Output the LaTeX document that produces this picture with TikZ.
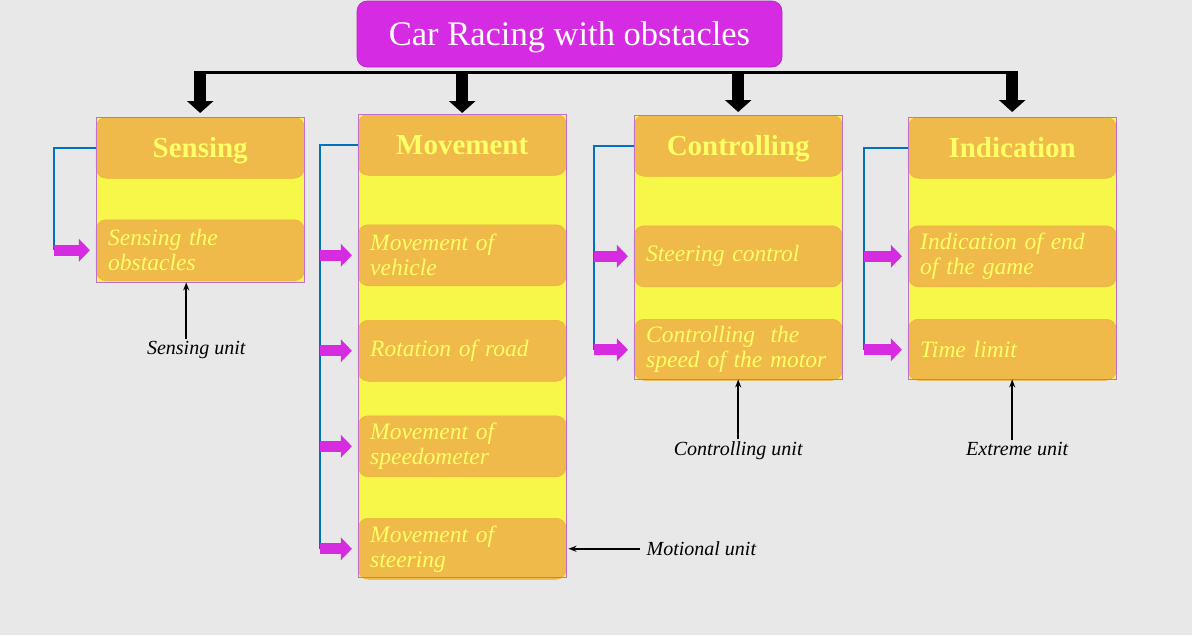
\documentclass[tikz,border=0pt]{standalone}
\usepackage{fontspec}
\setmainfont{Liberation Serif}
\usetikzlibrary{arrows.meta,positioning}

\definecolor{bggray}{HTML}{E8E8E8}
\definecolor{titlemag}{HTML}{D52BE3}
\definecolor{arrowmag}{HTML}{D62BE0}
\definecolor{colyellow}{HTML}{F7F74A}
\definecolor{headorange}{HTML}{F0BA4A}
\definecolor{edgeorange}{HTML}{E9B13E}
\definecolor{textyellow}{HTML}{FFFF66}
\definecolor{boxline}{HTML}{C070C8}
\definecolor{feedblue}{HTML}{0070C0}

\begin{document}
\begin{tikzpicture}[x=1pt,y=-1pt,
                    every node/.style={inner sep=0pt},
                    title/.style={fill=titlemag,draw=titlemag!85!black,line width=0.6pt,rounded corners=10pt,minimum width=425pt,minimum height=66pt,text depth=0pt,text=white,font=\fontsize{34.5}{37}\selectfont},
                    column/.style={fill=colyellow,minimum width=208pt,anchor=north west},
                    head/.style={fill=headorange,draw=edgeorange,line width=0.5pt,rounded corners=10pt,minimum width=208pt,minimum height=61pt,anchor=north,text depth=0pt,text=textyellow,font=\bfseries\fontsize{29}{32}\selectfont},
                    item/.style={fill=headorange,draw=edgeorange,line width=0.5pt,rounded corners=10pt,text width=184pt,inner xsep=12pt,minimum height=61pt,align=left,text=textyellow,font=\itshape\fontsize{23.5}{25}\selectfont},
                    unit/.style={inner sep=2pt,font=\itshape\fontsize{20}{22}\selectfont},
                    outline/.style={draw=boxline,line width=1pt},
                    bus/.style={line width=3pt},
                    drop/.style={line width=12pt,-{Triangle[width=26pt,length=12pt]},shorten >=1pt},
                    feed/.style={draw=feedblue,line width=2pt},
                    push/.style={draw=arrowmag,line width=11pt,-{Triangle[width=22pt,length=11pt]},shorten >=6pt},
                    note/.style={line width=1.5pt,-{Stealth[length=8pt,width=6pt]}}]

\useasboundingbox[fill=bggray] (0,0) rectangle (1192,635);

\node[title] (title) at (569.5,34) {Car Racing with obstacles};

% the four units
\node[column,minimum height=165pt] (sens) at (96,117) {};
\node[column,minimum height=463pt] (mov) at (358,114) {};
\node[column,minimum height=264pt] (ctrl) at (634,115) {};
\node[column,minimum height=262pt] (ind) at (908,117) {};

\node[head] (sensH) at (sens.north) {Sensing};
\node[item,below=41pt of sensH] (sensI) {Sensing the\\obstacles};

\node[head] (movH) at (mov.north) {Movement};
\node[item,below=49pt of movH] (movI1) {Movement of\\vehicle};
\node[item,below=34pt of movI1] (movI2) {Rotation of road};
\node[item,below=34pt of movI2] (movI3) {Movement of\\speedometer};
\node[item,below=41pt of movI3] (movI4) {Movement of\\steering};

\node[head] (ctrlH) at (ctrl.north) {Controlling};
\node[item,below=49pt of ctrlH] (ctrlI1) {Steering control};
\node[item,below=32pt of ctrlI1] (ctrlI2) {Controlling\ \ the\\speed of the motor};

\node[head] (indH) at (ind.north) {Indication};
\node[item,below=47pt of indH] (indI1) {Indication of end\\of the game};
\node[item,below=32pt of indI1] (indI2) {Time limit};

\draw[outline] (sens.north west) rectangle (sens.south east);
\draw[outline] (mov.north west) rectangle (mov.south east);
\draw[outline] (ctrl.north west) rectangle (ctrl.south east);
\draw[outline] (ind.north west) rectangle (ind.south east);

% from the title down to the units
\coordinate (bus) at (0,72);
\draw[bus] ([xshift=-6pt]sens.north |- bus) -- ([xshift=6pt]ind.north |- bus);
\draw[drop] (sens.north |- bus) -- ([yshift=3pt]sens.north);
\draw[drop] (mov.north |- bus) -- (mov.north);
\draw[drop] (ctrl.north |- bus) -- ([yshift=2pt]ctrl.north);
\draw[drop] (ind.north |- bus) -- ([yshift=4pt]ind.north);

% feeds into the items
\coordinate (sensL) at ([xshift=-42pt]sensI.west);
\draw[feed] (sensH.west) -| (sensL);
\draw[push] (sensL) -- (sensI.west);

\coordinate (movL) at ([xshift=-38pt]movI4.west);
\draw[feed] (movH.west) -| (movL);
\draw[push] (movL |- movI1.west) -- (movI1.west);
\draw[push] (movL |- movI2.west) -- (movI2.west);
\draw[push] (movL |- movI3.west) -- (movI3.west);
\draw[push] (movL) -- (movI4.west);

\coordinate (ctrlL) at ([xshift=-40pt]ctrlI2.west);
\draw[feed] (ctrlH.west) -| (ctrlL);
\draw[push] (ctrlL |- ctrlI1.west) -- (ctrlI1.west);
\draw[push] (ctrlL) -- (ctrlI2.west);

\coordinate (indL) at ([xshift=-44pt]indI2.west);
\draw[feed] (indH.west) -| (indL);
\draw[push] (indL |- indI1.west) -- (indI1.west);
\draw[push] (indL) -- (indI2.west);

% unit labels
\node[unit,below=57pt of sens,xshift=-4pt] (sensU) {Sensing unit};
\draw[note] ([xshift=-10pt]sensU.north) -- ([xshift=-10pt]sensU.north |- sens.south);
\node[unit,right=78pt of movI4] (movU) {Motional unit};
\draw[note,shorten <=4pt,shorten >=2pt] (movU.west) -- (movI4.east);
\node[unit,below=60pt of ctrl] (ctrlU) {Controlling unit};
\draw[note] (ctrlU.north) -- (ctrl.south);
\node[unit,below=61pt of ind,xshift=5pt] (indU) {Extreme unit};
\draw[note] ([xshift=-5pt]indU.north) -- (ind.south);

\end{tikzpicture}
\end{document}
